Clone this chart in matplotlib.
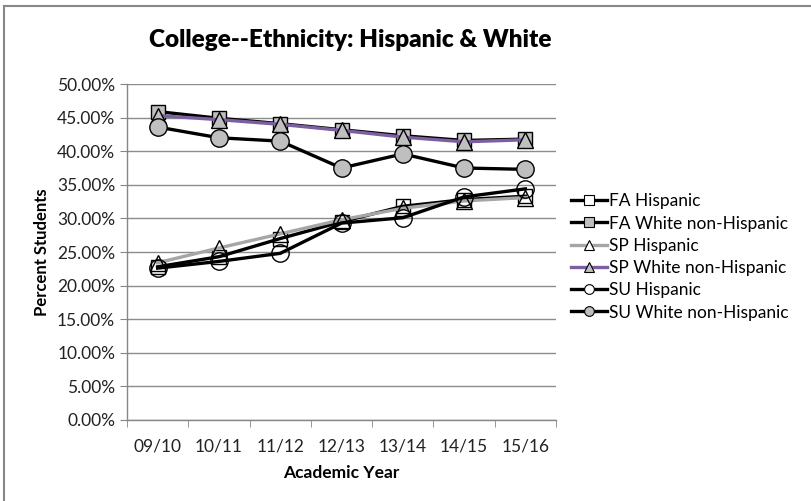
import matplotlib.pyplot as plt
from matplotlib.lines import Line2D
from matplotlib.ticker import FuncFormatter

plt.rcParams['font.family'] = ['Lato', 'DejaVu Sans']

years = ["09/10", "10/11", "11/12", "12/13", "13/14", "14/15", "15/16"]

fa_hispanic = [22.8, 24.3, 27.0, 29.5, 31.8, 32.8, 33.3]
fa_white = [45.9, 44.9, 44.1, 43.2, 42.3, 41.6, 41.8]
sp_hispanic = [23.4, 25.6, 27.7, 29.8, 31.5, 32.6, 33.1]
sp_white = [45.3, 44.7, 44.0, 43.1, 42.1, 41.4, 41.7]
su_hispanic = [22.6, 23.6, 24.8, 29.3, 30.1, 33.2, 34.4]
su_white = [43.6, 42.0, 41.5, 37.5, 39.6, 37.5, 37.3]

labels = ["FA Hispanic", "FA White non-Hispanic", "SP Hispanic",
          "SP White non-Hispanic", "SU Hispanic", "SU White non-Hispanic"]

# (values, line colour, marker, marker face, marker size)
series = [
    (fa_hispanic, 'black', 's', 'none', 10),
    (fa_white, 'black', 's', '#bfbfbf', 10),
    (sp_hispanic, '#a6a6a6', '^', 'none', 11),
    (sp_white, '#7b5fa0', '^', '#bfbfbf', 11),
    (su_hispanic, 'black', 'o', 'none', 12.5),
    (su_white, 'black', 'o', '#bfbfbf', 12.5),
]

fig = plt.figure(figsize=(8.11, 5.01), dpi=100)
ax = fig.add_axes([0.1566, 0.1617, 0.529, 0.6706])

x = list(range(len(years)))
handles = []
for (vals, col, mk, face, ms), lab in zip(series, labels):
    ax.plot(x, vals, color=col, lw=2.4, marker=mk, ms=ms,
            mfc=face, mec='black', mew=1.0, zorder=3)
    handles.append(Line2D([], [], color=col, lw=2.4, marker=mk, ms=7,
                          mfc='white' if face == 'none' else face,
                          mec='black', mew=0.8))

ax.set_xlim(-0.5, len(years) - 0.5)
ax.set_ylim(0, 50)
ax.set_yticks(range(0, 51, 5))
ax.yaxis.set_major_formatter(FuncFormatter(lambda v, p: f"{v:.2f}%"))
ax.set_xticks(x)
ax.set_xticklabels(years)
ax.set_xticks([i - 0.5 for i in range(len(years) + 1)], minor=True)
ax.tick_params(axis='x', which='major', length=0, pad=13, labelsize=12.5, labelcolor='#222222')
ax.tick_params(axis='x', which='minor', length=5, color='#868686')
ax.tick_params(axis='y', length=5, color='#868686', labelsize=12.5, labelcolor='#222222')

ax.grid(axis='y', color='#8c8c8c', lw=1.0)
ax.set_axisbelow(True)
for s in ['top', 'right']:
    ax.spines[s].set_visible(False)
for s in ['left', 'bottom']:
    ax.spines[s].set_color('#868686')
    ax.spines[s].set_linewidth(1.0)

ax.set_xlabel("Academic Year", fontsize=12.5, fontweight='bold', labelpad=8)
ax.set_ylabel("Percent Students", fontsize=12, fontweight='bold', labelpad=5)
fig.text(0.432, 0.92, "College--Ethnicity: Hispanic & White", ha='center', va='center',
         fontsize=17.5, fontweight='heavy')

fig.legend(handles, labels, loc='upper left', bbox_to_anchor=(0.695, 0.628),
           frameon=False, fontsize=12.5, handlelength=2.1, handletextpad=0.1,
           labelspacing=0.36, borderaxespad=0)

# chart border on the top and left edges
fig.add_artist(Line2D([0.005, 1], [0.988, 0.988], color='#888888', lw=1.5))
fig.add_artist(Line2D([0.005, 0.005], [0, 0.988], color='#888888', lw=1.5))

fig.savefig('out.png', dpi=100)
